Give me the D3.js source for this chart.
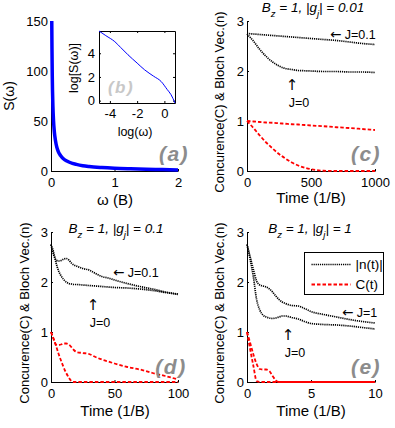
<!DOCTYPE html>
<html>
<head>
<meta charset="utf-8">
<script src="https://cdn.jsdelivr.net/npm/d3@7"></script>
<style>
body { margin: 0; background: #fff; }
text { font-family: "Liberation Sans", Arial, sans-serif; white-space: pre; }
.arw { font-family: "DejaVu Sans", sans-serif; }
</style>
</head>
<body>
<script>
// panel (a): spectrum
var omega = [0.012, 0.015, 0.02, 0.03, 0.04, 0.05, 0.06, 0.08, 0.1, 0.125, 0.15, 0.2, 0.25, 0.3, 0.4, 0.5, 0.6, 0.8, 1.0, 1.25, 1.5, 1.75, 2.0];
var specS = [150, 125, 95, 65, 50, 41, 35, 27, 22, 18, 15.5, 12, 10, 8.5, 6.6, 5.3, 4.5, 3.5, 2.8, 2.2, 1.7, 1.4, 1.1];
var ticksAx = [0, 1, 2];
var ticksAy = [0, 50, 100, 150];

// inset (b): log-log spectrum
var logW = [-4.8, -4.3, -3.64, -3.2, -2.67, -2.0, -1.45, -0.8, -0.24, 0.2, 0.49, 0.78];
var logS = [5.88, 5.49, 4.98, 4.48, 3.87, 3.17, 2.6, 2.07, 1.62, 0.95, 0.5, -0.2];
var ticksBx = [-4, -2, 0];
var ticksBy = [0, 2, 4];

// panel (c): |g| = 0.01
var tC = [0, 50, 100, 150, 200, 250, 300, 350, 400, 450, 500, 600, 700, 800, 900, 1000];
var nC_J01 = [2.75, 2.74, 2.73, 2.72, 2.71, 2.70, 2.69, 2.68, 2.67, 2.66, 2.65, 2.63, 2.61, 2.58, 2.55, 2.53];
var nC_J0 = [2.74, 2.60, 2.43, 2.29, 2.18, 2.10, 2.05, 2.03, 2.01, 2.005, 2.0, 1.99, 1.99, 1.98, 1.98, 1.97];
var cC_J01 = [1.0, 0.99, 0.98, 0.97, 0.965, 0.955, 0.945, 0.935, 0.93, 0.92, 0.91, 0.895, 0.875, 0.86, 0.84, 0.82];
var cC_J0 = [1.0, 0.86, 0.71, 0.57, 0.45, 0.34, 0.25, 0.17, 0.11, 0.065, 0.035, 0.005, 0, 0, 0, 0];
var ticksCx = [0, 500, 1000];

// panel (d): |g| = 0.1
var tD = [0, 2, 4, 6, 8, 10, 12, 14, 16, 18, 20, 25, 30, 35, 40, 45, 50, 60, 70, 80, 90, 100];
var nD_J01 = [2.75, 2.55, 2.44, 2.42, 2.43, 2.46, 2.47, 2.44, 2.38, 2.34, 2.32, 2.27, 2.24, 2.17, 2.11, 2.08, 2.04, 1.97, 1.91, 1.86, 1.8, 1.76];
var nD_J0 = [2.75, 2.6, 2.38, 2.22, 2.12, 2.05, 2.0, 1.97, 1.96, 1.95, 1.95, 1.94, 1.93, 1.92, 1.91, 1.9, 1.89, 1.88, 1.86, 1.83, 1.79, 1.75];
var cD_J01 = [1.0, 0.86, 0.75, 0.74, 0.75, 0.77, 0.77, 0.75, 0.7, 0.64, 0.6, 0.58, 0.56, 0.5, 0.45, 0.41, 0.37, 0.3, 0.25, 0.18, 0.12, 0.05];
var cD_J0 = [1.0, 0.87, 0.72, 0.56, 0.42, 0.29, 0.18, 0.09, 0.02, 0, 0, 0, 0, 0, 0, 0, 0, 0, 0, 0, 0, 0];
var ticksDx = [0, 50, 100];

// panel (e): |g| = 1
var tE = [0, 0.25, 0.5, 0.75, 1, 1.25, 1.5, 1.75, 2, 2.25, 2.5, 2.75, 3, 3.5, 4, 4.5, 5, 6, 7, 8, 9, 10];
var nE_J1 = [2.75, 2.5, 2.25, 2.02, 1.94, 1.92, 1.9, 1.86, 1.8, 1.72, 1.65, 1.6, 1.57, 1.53, 1.52, 1.47, 1.41, 1.35, 1.3, 1.25, 1.21, 1.18];
var nE_J0 = [2.75, 2.45, 2.1, 1.65, 1.44, 1.34, 1.3, 1.28, 1.27, 1.28, 1.3, 1.32, 1.32, 1.29, 1.26, 1.21, 1.17, 1.15, 1.14, 1.12, 1.09, 1.06];
var cE_J1 = [1.0, 0.78, 0.55, 0.36, 0.26, 0.25, 0.25, 0.22, 0.12, 0.03, 0, 0, 0, 0, 0, 0, 0, 0, 0, 0, 0, 0];
var cE_J0 = [1.0, 0.65, 0.32, 0.02, 0, 0, 0, 0, 0, 0, 0, 0, 0, 0, 0, 0, 0, 0, 0, 0, 0, 0];
var ticksEx = [0, 5, 10];

var ticksTy = [0, 1, 2, 3];
var legendLabels = ['|n(t)|', 'C(t)'];

//svg
var svg = d3.select("body")
    .append("svg")
    .attr("width", 395)
    .attr("height", 428)
    .style('display', 'block');

var fmt = function (d) { return String(d); };

// axes with inward ticks, box off
function panel(x0, x1, y0, y1, xDom, yDom, xTicks, yTicks) {
    var x = d3.scaleLinear().domain(xDom).range([x0, x1]);
    var y = d3.scaleLinear().domain(yDom).range([y0, y1]);
    var gx = svg.append('g')
        .attr('transform', 'translate(0,' + y0 + ')')
        .call(d3.axisBottom(x).tickValues(xTicks).tickFormat(fmt).tickSizeInner(-2).tickSizeOuter(0).tickPadding(7));
    var gy = svg.append('g')
        .attr('transform', 'translate(' + x0 + ',0)')
        .call(d3.axisLeft(y).tickValues(yTicks).tickFormat(fmt).tickSizeInner(-2).tickSizeOuter(0).tickPadding(3));
    [gx, gy].forEach(function (g) {
        g.attr('font-family', null).attr('font-size', 13);
        g.selectAll('text').attr('fill', '#000');
    });
    return {x: x, y: y};
}

function series(p, xs, ys, color, width, dash) {
    svg.append('path')
        .datum(ys)
        .attr('fill', 'none')
        .attr('stroke', color)
        .attr('stroke-width', width)
        .attr('stroke-dasharray', dash)
        .attr('d', d3.line()
            .curve(d3.curveMonotoneX)
            .x(function (d, i) { return p.x(xs[i]); })
            .y(function (d) { return p.y(d); }));
}

function label(x, y, str, size, rot) {
    return svg.append('text')
        .attr('transform', 'translate(' + x + ',' + y + ')' + (rot ? ' rotate(-90)' : ''))
        .attr('text-anchor', 'middle')
        .attr('font-size', size)
        .text(str);
}

function letter(x, y, str, color, size) {
    svg.append('text')
        .attr('x', x)
        .attr('y', y)
        .attr('text-anchor', 'middle')
        .attr('font-size', size)
        .attr('font-weight', 'bold')
        .attr('font-style', 'italic')
        .attr('letter-spacing', 1.5)
        .attr('fill', color)
        .text(str);
}

function title(cx, by, gval) {
    var t = svg.append('text')
        .attr('x', cx)
        .attr('y', by)
        .attr('text-anchor', 'middle')
        .attr('font-size', 13.5)
        .attr('font-style', 'italic');
    t.append('tspan').text('B');
    t.append('tspan').attr('font-size', 9.5).attr('dy', 5).text('z');
    t.append('tspan').attr('dy', -5).text(' = 1, |g');
    t.append('tspan').attr('font-size', 9.5).attr('dy', 5).text('j');
    t.append('tspan').attr('dy', -5).text('| = ' + gval);
}

// "<- J=.." label, arrow glyph from DejaVu
function leftNote(x, y, str) {
    var t = svg.append('text')
        .attr('x', x)
        .attr('y', y)
        .attr('font-size', 12.5);
    t.append('tspan').attr('class', 'arw').attr('font-size', 13.5).text('←');
    t.append('tspan').text(' ' + str);
}

function upNote(x, y, str) {
    svg.append('text')
        .attr('class', 'arw')
        .attr('x', x)
        .attr('y', y + 1)
        .attr('text-anchor', 'middle')
        .attr('font-size', 15)
        .text('↑');
    svg.append('text')
        .attr('x', x + 7)
        .attr('y', y + 18)
        .attr('text-anchor', 'middle')
        .attr('font-size', 12.5)
        .text(str);
}

var DOT = '1.2,0.9';
var DASH = '3.5,2';
var RED = '#ff0000';

//panel a
var pa = panel(51, 178, 171, 21, [0, 2], [0, 150], ticksAx, ticksAy);
series(pa, omega, specS, '#0000ff', 3.5, null);
label(115, 205, 'ω (B)', 15, false);
label(14, 96, 'S(ω)', 14, true);
letter(174, 161, '(a)', '#8c8c8c', 21);

//inset b
var xb = d3.scaleLinear().domain([-4.8, 0.78]).range([99, 175]);
var yb = d3.scaleLinear().domain([-0.2, 5.88]).range([103, 31]);
svg.append('rect').attr('x', 99.5).attr('y', 31.5).attr('width', 76).attr('height', 72).attr('fill', '#fff');
var bAxes = [
    svg.append('g').attr('transform', 'translate(0,103)')
        .call(d3.axisBottom(xb).tickValues(ticksBx).tickFormat(fmt).tickSizeInner(-2).tickSizeOuter(0).tickPadding(6)),
    svg.append('g').attr('transform', 'translate(0,31)')
        .call(d3.axisTop(xb).tickValues(ticksBx).tickFormat('').tickSizeInner(-2).tickSizeOuter(0)),
    svg.append('g').attr('transform', 'translate(99,0)')
        .call(d3.axisLeft(yb).tickValues(ticksBy).tickFormat(fmt).tickSizeInner(-2).tickSizeOuter(0).tickPadding(4)),
    svg.append('g').attr('transform', 'translate(175,0)')
        .call(d3.axisRight(yb).tickValues(ticksBy).tickFormat('').tickSizeInner(-2).tickSizeOuter(0))
];
bAxes.forEach(function (g) {
    g.attr('font-family', null).attr('font-size', 13);
    g.selectAll('text').attr('fill', '#000');
});
series({x: xb, y: yb}, logW, logS, '#0000ff', 1, null);
label(135, 136, 'log(ω)', 12.5, false);
label(78, 68, 'log[S(ω)]', 12.5, true);
letter(121, 93, '(b)', '#c8c8c8', 17);

//panel c
var pc = panel(247, 375, 171, 21, [0, 1000], [0, 3], ticksCx, ticksTy);
series(pc, tC, nC_J01, '#000', 1.7, DOT);
series(pc, tC, nC_J0, '#000', 1.7, DOT);
series(pc, tC, cC_J01, RED, 1.8, DASH);
series(pc, tC, cC_J0, RED, 1.8, DASH);
title(313, 12, '0.01');
label(311, 203, 'Time (1/B)', 15, false);
label(224, 102, 'Concurence(C) & Bloch Vec.(n)', 13, true);
leftNote(330, 38.5, 'J=0.1');
upNote(292, 89, 'J=0');
letter(366, 161, '(c)', '#8c8c8c', 21);

//panel d
var pd = panel(51, 178, 382, 232, [0, 100], [0, 3], ticksDx, ticksTy);
series(pd, tD, nD_J01, '#000', 1.7, DOT);
series(pd, tD, nD_J0, '#000', 1.7, DOT);
series(pd, tD, cD_J01, RED, 1.8, DASH);
series(pd, tD, cD_J0, RED, 1.8, DASH);
title(116, 233, '0.1');
label(115, 416, 'Time (1/B)', 15, false);
label(29, 313, 'Concurence(C) & Bloch Vec.(n)', 13, true);
leftNote(113, 277, 'J=0.1');
upNote(93, 309, 'J=0');
letter(171, 374, '(d)', '#8c8c8c', 21);

//panel e
var pe = panel(247, 375, 382, 232, [0, 10], [0, 3], ticksEx, ticksTy);
series(pe, tE, nE_J1, '#000', 1.7, DOT);
series(pe, tE, nE_J0, '#000', 1.7, DOT);
series(pe, tE, cE_J1, RED, 1.8, DASH);
series(pe, tE, cE_J0, RED, 1.8, DASH);
title(310, 233, '1');
label(311, 416, 'Time (1/B)', 15, false);
label(224, 313, 'Concurence(C) & Bloch Vec.(n)', 13, true);
leftNote(342, 317, 'J=1');
upNote(288, 339, 'J=0');
letter(366, 374, '(e)', '#8c8c8c', 21);

//legend
var leg = svg.append('g').attr('transform', 'translate(304.5,252.5)');
leg.append('rect')
    .attr('width', 79)
    .attr('height', 42)
    .attr('fill', '#fff')
    .attr('stroke', '#000');
var legStyle = [{c: '#000', w: 1.7, d: DOT}, {c: RED, w: 1.8, d: DASH}];
leg.selectAll('g.item')
    .data(legendLabels)
    .enter()
    .append('g')
    .attr('class', 'item')
    .attr('transform', function (d, i) { return 'translate(0,' + (12 + i * 20) + ')'; })
    .each(function (d, i) {
        var g = d3.select(this);
        g.append('line')
            .attr('x1', 7).attr('x2', 46).attr('y1', 0).attr('y2', 0)
            .attr('stroke', legStyle[i].c)
            .attr('stroke-width', legStyle[i].w)
            .attr('stroke-dasharray', legStyle[i].d);
        g.append('text')
            .attr('x', 51)
            .attr('y', 4.5)
            .attr('font-size', 13.5)
            .text(d);
    });
</script>
</body>
</html>
